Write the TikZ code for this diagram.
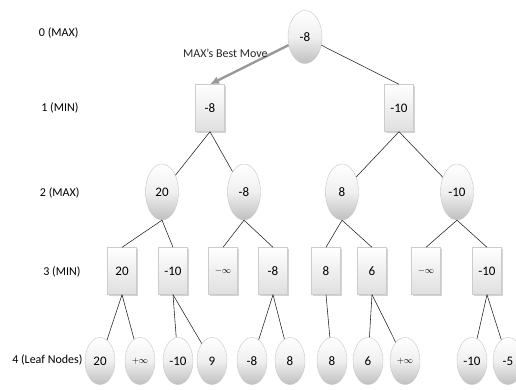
\documentclass[tikz,border=0pt]{standalone}
\usepackage{fontspec}
\setmainfont{Carlito}
\usetikzlibrary{arrows,arrows.meta,positioning,calc,shadows}
\tikzstyle{maxnode}=[draw=gray!45,ellipse,top color=white,bottom color=gray!50,middle color=gray!12,minimum width=33pt,minimum height=56pt,inner sep=0pt,font=\fontsize{13}{15}\selectfont]
\tikzstyle{leafnode}=[maxnode,minimum width=30pt,minimum height=47pt]
\tikzstyle{minnode}=[draw=gray!40,rectangle,top color=white,bottom color=gray!25,minimum width=29pt,minimum height=47pt,inner sep=0pt,font=\fontsize{13}{15}\selectfont,drop shadow={shadow xshift=1.2pt,shadow yshift=-1.2pt,opacity=.35}]
\tikzstyle{levellabel}=[anchor=east,font=\fontsize{12}{14}\selectfont]
\tikzstyle{edge}=[draw=gray!25!black,line width=0.55pt]
\usetikzlibrary{shapes.geometric}

\begin{document}
\begin{tikzpicture}[x=1pt,y=-1pt]
\useasboundingbox (0,0) rectangle (516,390);
% levels
\node [levellabel] (lab0) at (82,33) {0 (MAX)};
\node [levellabel] (lab1) at (82,108) {1 (MIN)};
\node [levellabel] (lab2) at (83,193) {2 (MAX)};
\node [levellabel] (lab3) at (84,272) {3 (MIN)};
\node [levellabel] (lab4) at (86,360) {4 (Leaf Nodes)};
% tree
\node [maxnode,minimum width=34pt,minimum height=53pt] (r) at (305,37) {-8};
\node [minnode] (m1) at (210,108) {-8};
\node [minnode] (m2) at (399,108) {-10};
\node [maxnode] (x1) at (162,192) {20};
\node [maxnode] (x2) at (244,192) {-8};
\node [maxnode] (x3) at (342,192) {8};
\node [maxnode] (x4) at (457,192) {-10};
\node [minnode] (n1) at (122,271) {20};
\node [minnode] (n2) at (173,271) {-10};
\node [minnode] (n3) at (223,271) {$\scriptstyle-\infty$};
\node [minnode] (n4) at (273,271) {-8};
\node [minnode] (n5) at (326,271) {8};
\node [minnode] (n6) at (372,271) {6};
\node [minnode] (n7) at (426,271) {$\scriptstyle-\infty$};
\node [minnode] (n8) at (487,271) {-10};
\node [leafnode] (l1) at (100,361) {20};
\node [leafnode] (l2) at (140,361) {$\scriptstyle+\infty$};
\node [leafnode] (l3) at (178,361) {-10};
\node [leafnode] (l4) at (212,361) {9};
\node [leafnode] (l5) at (252,361) {-8};
\node [leafnode] (l6) at (290,361) {8};
\node [leafnode] (l7) at (332,361) {8};
\node [leafnode] (l8) at (368,361) {6};
\node [leafnode] (l9) at (405,361) {$\scriptstyle+\infty$};
\node [leafnode] (l10) at (472,361) {-10};
\node [leafnode] (l11) at (508,361) {-5};
% edges
\draw [draw=gray!80,line width=2.4pt,-{Latex[length=9pt,width=8pt]}] (r) -- (m1.north)
  node [pos=0.55,above,xshift=-20pt,yshift=5pt,font=\fontsize{12}{14}\selectfont,text=gray!30!black] (best) {MAX's Best Move};
\draw [edge] (r) -- (m2.north);
\foreach \a/\b in {m1/x1,m1/x2,m2/x3,m2/x4}
  \draw [edge] (\a.south) -- (\b);
\foreach \a/\b in {x1/n1,x1/n2,x2/n3,x2/n4,x3/n5,x3/n6,x4/n7,x4/n8}
  \draw [edge] (\a.south) -- (\b.north);
\foreach \a/\b in {n1/l1,n1/l2,n2/l3,n2/l4,n4/l5,n4/l6,n5/l7,n6/l8,n6/l9,n8/l10,n8/l11}
  \draw [edge] (\a.south) -- (\b);
\end{tikzpicture}
\end{document}
